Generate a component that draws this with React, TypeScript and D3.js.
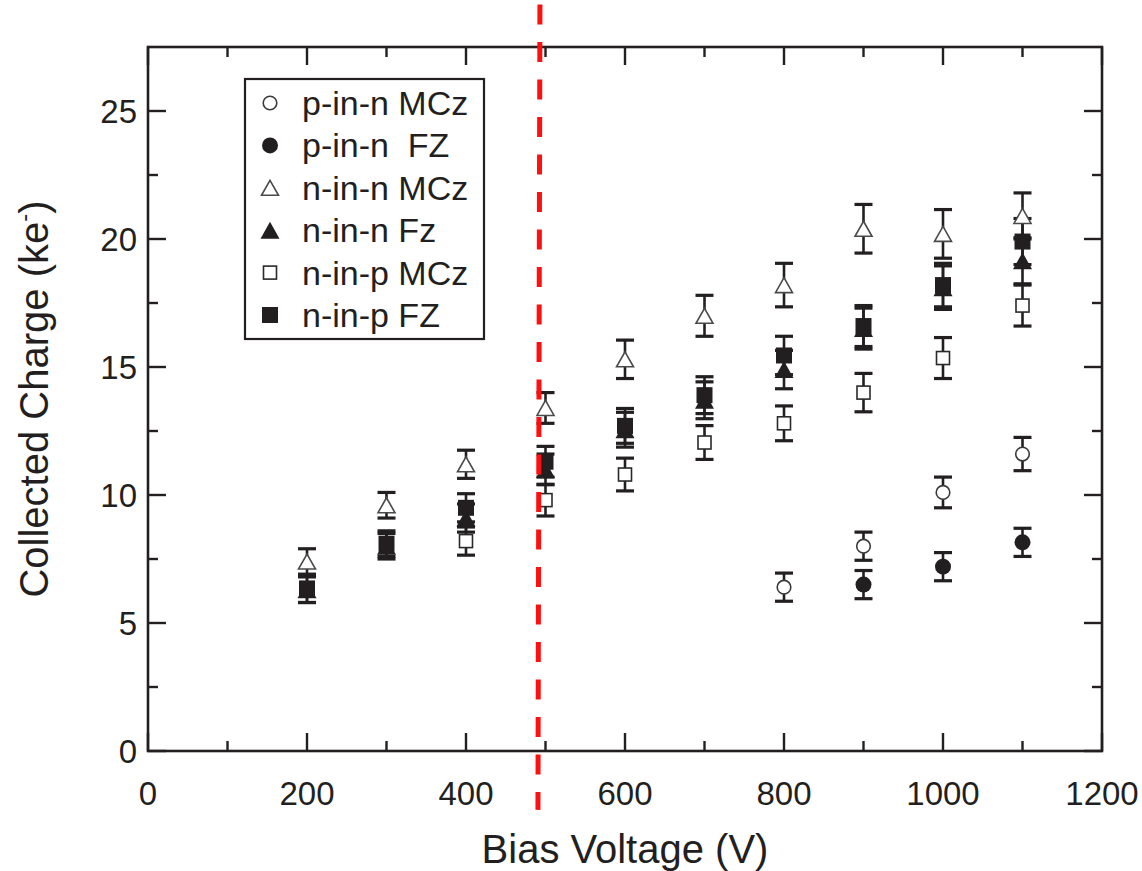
import React from "react";
import * as d3 from "d3";

const W = 1142;
const H = 871;

// Axis ranges / ticks
const xDomain = [0, 1200];
const yDomain = [0, 27.5];
const xMajorTicks = [0, 200, 400, 600, 800, 1000, 1200];
const xMinorTicks = [100, 300, 500, 700, 900, 1100];
const yMajorTicks = [0, 5, 10, 15, 20, 25];
const yMinorTicks = [2.5, 7.5, 12.5, 17.5, 22.5];

// Threshold (red dashed) line
const thresholdTopV = 493;
const thresholdBottomV = 490.5;
const thresholdYTop = 29.16;
const thresholdYBottom = -2.3;

// Series data
const pinnMCzX = [800, 900, 1000, 1100];
const pinnMCzY = [6.4, 8.0, 10.1, 11.6];
const pinnMCzE = [0.55, 0.55, 0.6, 0.65];

const pinnFZX = [900, 1000, 1100];
const pinnFZY = [6.5, 7.2, 8.15];
const pinnFZE = [0.55, 0.55, 0.55];

const ninnMCzX = [200, 300, 400, 500, 600, 700, 800, 900, 1000, 1100];
const ninnMCzY = [7.4, 9.6, 11.2, 13.4, 15.3, 17.0, 18.2, 20.4, 20.2, 20.9];
const ninnMCzE = [0.5, 0.5, 0.55, 0.6, 0.75, 0.8, 0.85, 0.95, 0.95, 0.9];

const ninnFzX = [200, 300, 400, 500, 600, 700, 800, 900, 1000, 1100];
const ninnFzY = [6.3, 8.0, 9.1, 11.0, 12.55, 13.7, 14.9, 16.5, 18.1, 19.15];
const ninnFzE = [0.5, 0.5, 0.55, 0.6, 0.68, 0.72, 0.75, 0.8, 0.85, 0.9];

const ninpMCzX = [400, 500, 600, 700, 800, 900, 1000, 1100];
const ninpMCzY = [8.2, 9.8, 10.8, 12.05, 12.8, 14.0, 15.35, 17.4];
const ninpMCzE = [0.55, 0.62, 0.64, 0.66, 0.68, 0.75, 0.8, 0.8];

const ninpFZX = [200, 300, 400, 500, 600, 700, 800, 900, 1000, 1100];
const ninpFZY = [6.35, 8.1, 9.5, 11.3, 12.7, 13.9, 15.45, 16.6, 18.2, 19.9];
const ninpFZE = [0.55, 0.5, 0.55, 0.6, 0.68, 0.72, 0.75, 0.8, 0.85, 0.9];

const seriesNames = ["p-in-n MCz", "p-in-n  FZ", "n-in-n MCz", "n-in-n Fz", "n-in-p MCz", "n-in-p FZ"];
const seriesShapes = ["circleOpen", "circleFilled", "triOpen", "triFilled", "squareOpen", "squareFilled"];

const series = [
  { name: seriesNames[0], shape: seriesShapes[0], xs: pinnMCzX, ys: pinnMCzY, es: pinnMCzE },
  { name: seriesNames[1], shape: seriesShapes[1], xs: pinnFZX, ys: pinnFZY, es: pinnFZE },
  { name: seriesNames[2], shape: seriesShapes[2], xs: ninnMCzX, ys: ninnMCzY, es: ninnMCzE },
  { name: seriesNames[3], shape: seriesShapes[3], xs: ninnFzX, ys: ninnFzY, es: ninnFzE },
  { name: seriesNames[4], shape: seriesShapes[4], xs: ninpMCzX, ys: ninpMCzY, es: ninpMCzE },
  { name: seriesNames[5], shape: seriesShapes[5], xs: ninpFZX, ys: ninpFZY, es: ninpFZE },
];

const INK = "#231f20";
const FONT = "'Liberation Sans', Arial, Helvetica, sans-serif";

const margin = { left: 148, right: W - 1102, top: 47, bottom: H - 751 };

function Marker({ shape, cx, cy }: { shape: string; cx: number; cy: number }) {
  switch (shape) {
    case "circleOpen":
      return <circle cx={cx} cy={cy} r={6.8} fill="#fff" stroke="#3a3a3a" strokeWidth={1.6} />;
    case "circleFilled":
      return <circle cx={cx} cy={cy} r={8} fill={INK} />;
    case "triOpen": {
      const w = 17, h = 15;
      const p = `M${cx},${cy - h / 2}L${cx + w / 2},${cy + h / 2}L${cx - w / 2},${cy + h / 2}Z`;
      return <path d={p} fill="#fff" stroke="#4a4a4a" strokeWidth={1.6} strokeLinejoin="miter" />;
    }
    case "triFilled": {
      const w = 19, h = 17;
      const p = `M${cx},${cy - h / 2}L${cx + w / 2},${cy + h / 2}L${cx - w / 2},${cy + h / 2}Z`;
      return <path d={p} fill={INK} />;
    }
    case "squareOpen":
      return <rect x={cx - 6.5} y={cy - 6.5} width={13} height={13} fill="#fff" stroke="#2a2a2a" strokeWidth={1.6} />;
    case "squareFilled":
      return <rect x={cx - 8} y={cy - 8} width={16} height={16} fill={INK} />;
    default:
      return null;
  }
}

export default function App() {
  const x = d3.scaleLinear().domain(xDomain).range([margin.left, W - margin.right]);
  const y = d3.scaleLinear().domain(yDomain).range([H - margin.bottom, margin.top]);

  const x0 = x(xDomain[0]);
  const x1 = x(xDomain[1]);
  const y0 = y(yDomain[0]);
  const y1 = y(yDomain[1]);

  const majorLen = 18;
  const minorLen = 10;

  const legendX = 245, legendY = 79, legendW = 239, legendH = 260;
  const legendRow0 = 103, legendRowStep = 42.4;

  return (
    <svg
      width={W}
      height={H}
      style={{ position: "absolute", left: 0, top: 0, background: "#fff" }}
      fontFamily={FONT}
    >
      <rect x={0} y={0} width={W} height={H} fill="#fff" />

      {/* error bars */}
      {series.map((s, si) =>
        s.xs.map((xv, i) => {
          const cx = x(xv);
          const yt = y(s.ys[i] + s.es[i]);
          const yb = y(s.ys[i] - s.es[i]);
          return (
            <g key={`e${si}-${i}`} stroke={INK}>
              <line x1={cx} x2={cx} y1={yt} y2={yb} strokeWidth={2.6} />
              <line x1={cx - 9} x2={cx + 9} y1={yt} y2={yt} strokeWidth={3.2} />
              <line x1={cx - 9} x2={cx + 9} y1={yb} y2={yb} strokeWidth={3.2} />
            </g>
          );
        })
      )}

      {/* markers */}
      {series.map((s, si) =>
        s.xs.map((xv, i) => (
          <Marker key={`m${si}-${i}`} shape={s.shape} cx={x(xv)} cy={y(s.ys[i])} />
        ))
      )}

      {/* axes frame */}
      <rect x={x0} y={y1} width={x1 - x0} height={y0 - y1} fill="none" stroke={INK} strokeWidth={2.6} />

      {/* x ticks bottom & top */}
      {xMajorTicks.map((t) => (
        <g key={`xM${t}`} stroke={INK} strokeWidth={2.4}>
          <line x1={x(t)} x2={x(t)} y1={y0} y2={y0 - majorLen} />
          <line x1={x(t)} x2={x(t)} y1={y1} y2={y1 + majorLen} />
        </g>
      ))}
      {xMinorTicks.map((t) => (
        <g key={`xm${t}`} stroke={INK} strokeWidth={2.4}>
          <line x1={x(t)} x2={x(t)} y1={y0} y2={y0 - minorLen} />
          <line x1={x(t)} x2={x(t)} y1={y1} y2={y1 + minorLen} />
        </g>
      ))}
      {/* y ticks left & right */}
      {yMajorTicks.map((t) => (
        <g key={`yM${t}`} stroke={INK} strokeWidth={2.4}>
          <line x1={x0} x2={x0 + majorLen} y1={y(t)} y2={y(t)} />
          <line x1={x1} x2={x1 - majorLen} y1={y(t)} y2={y(t)} />
        </g>
      ))}
      {yMinorTicks.map((t) => (
        <g key={`ym${t}`} stroke={INK} strokeWidth={2.4}>
          <line x1={x0} x2={x0 + minorLen} y1={y(t)} y2={y(t)} />
          <line x1={x1} x2={x1 - minorLen} y1={y(t)} y2={y(t)} />
        </g>
      ))}

      {/* tick labels */}
      {xMajorTicks.map((t) => (
        <text key={`xl${t}`} x={x(t)} y={805} textAnchor="middle" fontSize={33} fill={INK}>
          {t}
        </text>
      ))}
      {yMajorTicks.map((t) => (
        <text key={`yl${t}`} x={137} y={y(t) + 12} textAnchor="end" fontSize={33} fill={INK}>
          {t}
        </text>
      ))}

      {/* axis titles */}
      <text x={(x0 + x1) / 2} y={863} textAnchor="middle" fontSize={40} fill={INK}>
        Bias Voltage (V)
      </text>
      <text
        transform={`translate(48, ${(y0 + y1) / 2}) rotate(-90)`}
        textAnchor="middle"
        fontSize={40}
        fill={INK}
      >
        Collected Charge (ke
        <tspan fontSize={24} dy={-16}>-</tspan>
        <tspan dy={16}>)</tspan>
      </text>

      {/* legend */}
      <rect x={legendX} y={legendY} width={legendW} height={legendH} fill="#fff" stroke={INK} strokeWidth={2.2} />
      {series.map((s, i) => {
        const cy = legendRow0 + i * legendRowStep;
        return (
          <g key={`lg${i}`}>
            <Marker shape={s.shape} cx={270} cy={cy} />
            <text x={302} y={cy + 12} fontSize={34} fill={INK} style={{ whiteSpace: "pre" }}>
              {s.name}
            </text>
          </g>
        );
      })}

      {/* red dashed threshold line */}
      <line
        x1={x(thresholdTopV)}
        x2={x(thresholdBottomV)}
        y1={y(thresholdYTop)}
        y2={y(thresholdYBottom)}
        stroke="#ff1010"
        strokeWidth={5}
        strokeDasharray="20 17.5"
      />
    </svg>
  );
}
